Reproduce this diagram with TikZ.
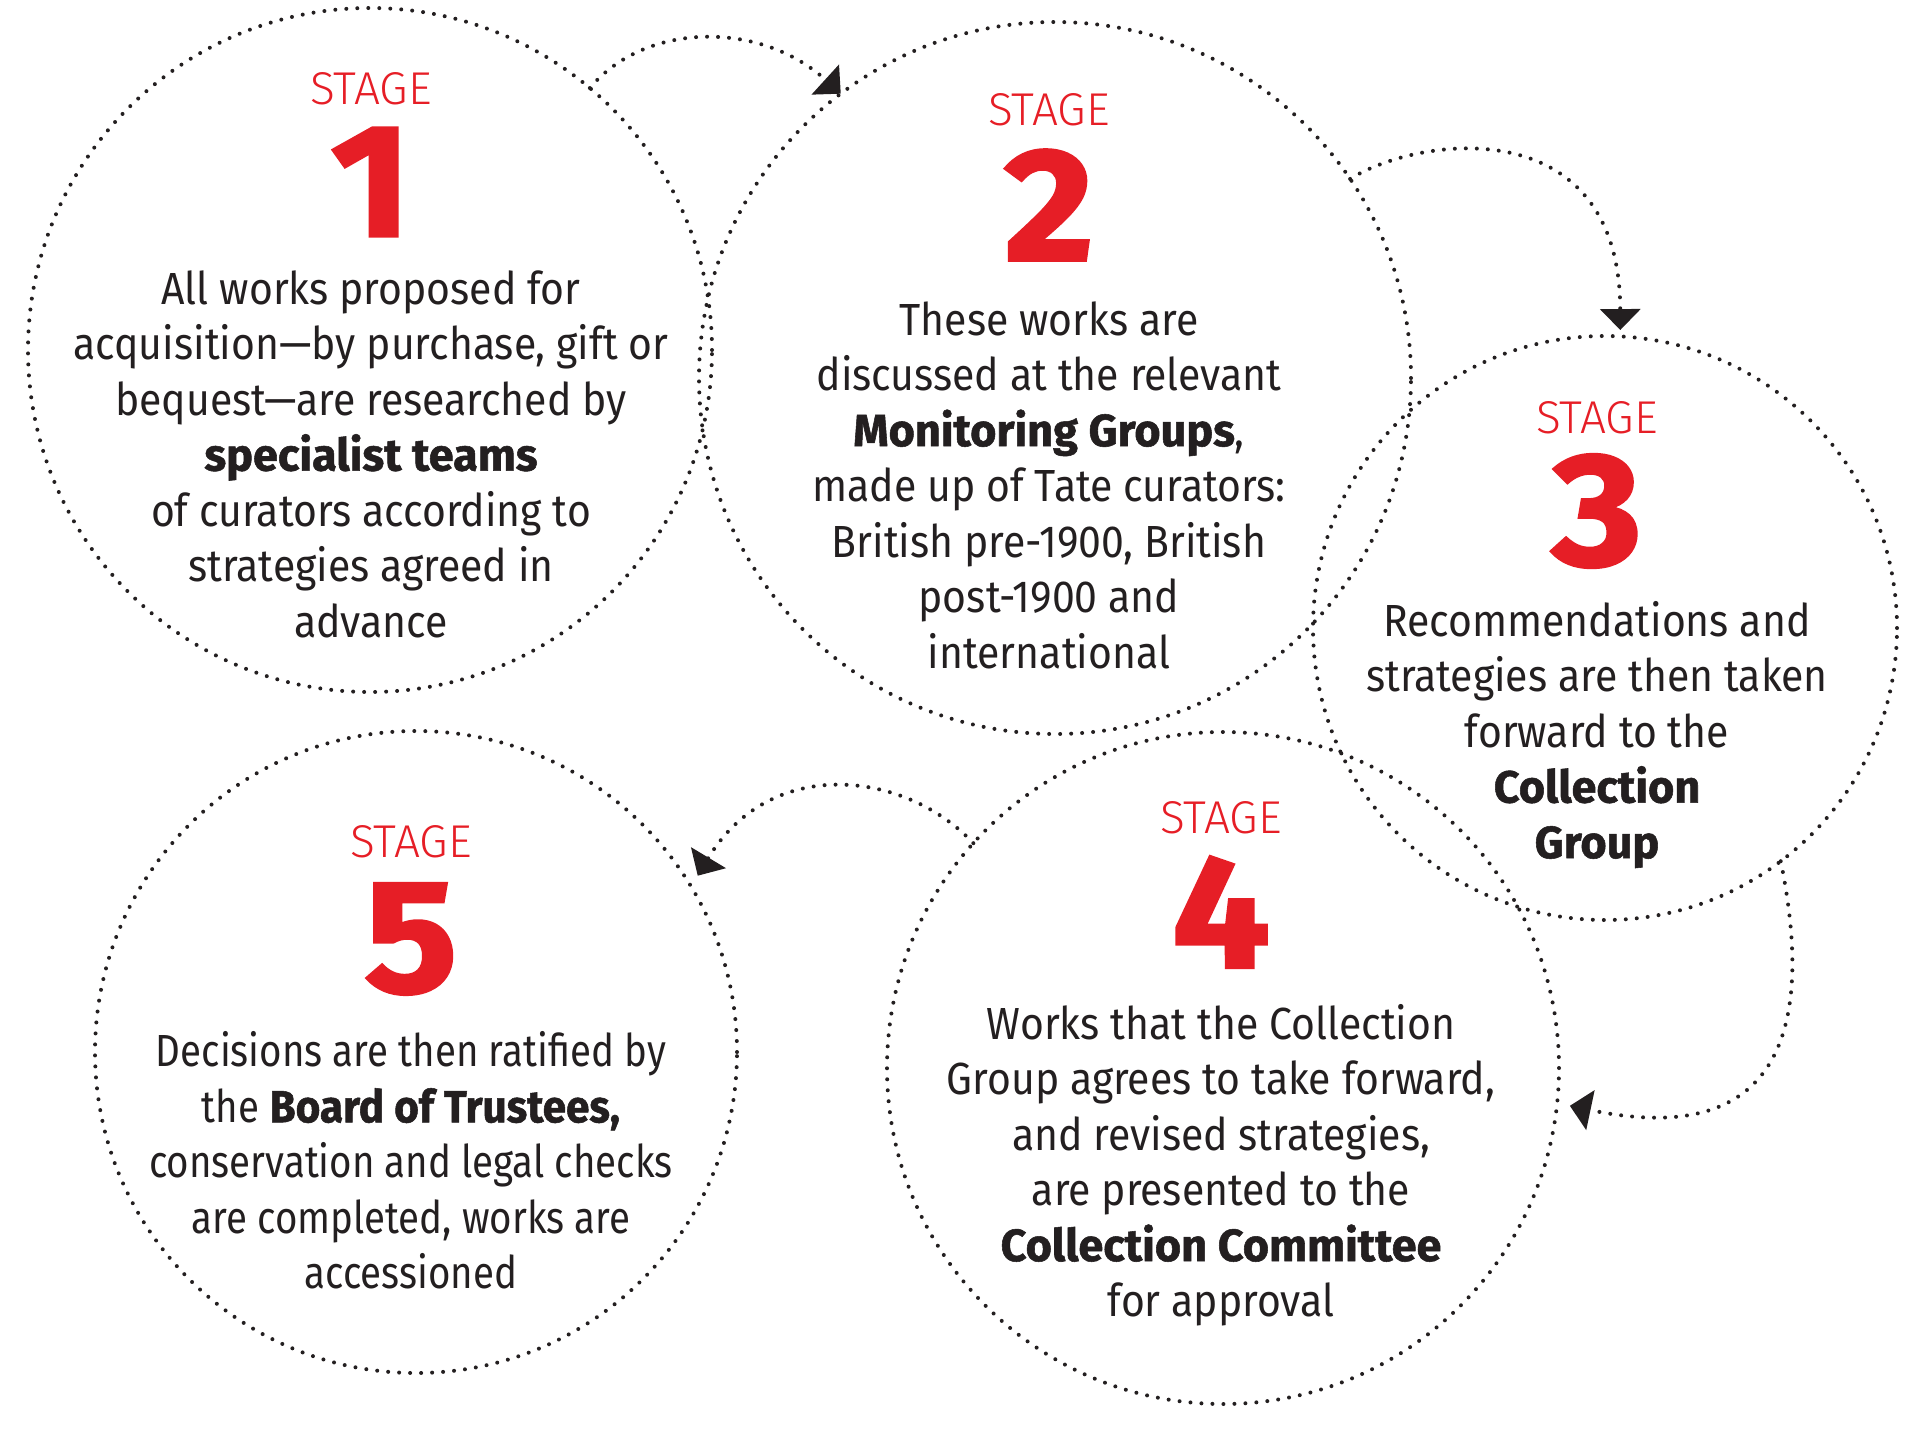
\documentclass[tikz,border=0pt]{standalone}
\usepackage{fontspec}
\setmainfont{Fira Sans}[FakeStretch=0.91, BoldFeatures={FakeStretch=1.0, FakeBold=1.2}]
\newfontfamily\tightfont{Fira Sans}[FakeStretch=0.855, BoldFeatures={FakeStretch=0.94, FakeBold=1.2}]
\newfontfamily\numfont{Fira Sans}[FakeStretch=1.08, BoldFeatures={FakeStretch=1.08, FakeBold=2}]
\newfontfamily\stagefont{Fira Sans Light}[FakeStretch=1.0]
\usetikzlibrary{arrows.meta}
\definecolor{tred}{RGB}{230,30,38}
\definecolor{tink}{RGB}{35,31,32}
\tikzset{
  dotline/.style={draw=tink, line width=4pt, line cap=round, dash pattern=on 0pt off 11pt},
  stagecirc/.style={circle, dotline, inner sep=0pt, outer sep=0pt},
  flowarrow/.style={dotline, -{Triangle[width=40pt,length=21pt]}},
  stagelbl/.style={text=tred, font=\stagefont\fontsize{46}{46}\selectfont, inner sep=0pt},
  stagenum/.style={text=tred, font=\numfont\bfseries\fontsize{160}{160}\selectfont, inner sep=0pt},
  body/.style={text=tink, align=center, font=\fontsize{45}{55.5}\selectfont, inner sep=0pt},
  tightbody/.style={body, font=\tightfont\fontsize{45}{55.5}\selectfont},
}
\begin{document}
\begin{tikzpicture}[x=1pt,y=-1pt]
\useasboundingbox (0,0) rectangle (1920,1441);
% circles
\node[stagecirc, minimum size=684pt] (c1) at (370,350) {};
\node[stagecirc, minimum size=712pt] (c2) at (1055,378) {};
\node[stagecirc, minimum size=584pt] (c3) at (1605,628) {};
\node[stagecirc, minimum size=672pt] (c4) at (1223,1068) {};
\node[stagecirc, minimum size=642pt] (c5) at (416,1052) {};
% stage 1
\node[stagelbl] (s1) at (371,89) {STAGE};
\node[stagenum] (n1) at (371,182) {1};
\node[body] (t1) at (371,454) {All works proposed for\\acquisition—by purchase, gift or\\bequest—are researched by\\\textbf{specialist teams}\\of curators according to\\strategies agreed in\\advance};
% stage 2
\node[stagelbl] (s2) at (1049,110) {STAGE};
\node[stagenum] (n2) at (1049,205) {2};
\node[body] (t2) at (1049,485) {These works are\\discussed at the relevant\\\textbf{Monitoring Groups},\\made up of Tate curators:\\British pre-1900, British\\post-1900 and\\international};
% stage 3
\node[stagelbl] (s3) at (1597,418) {STAGE};
\node[stagenum] (n3) at (1597,511) {3};
\node[body] (t3) at (1597,734.5) {Recommendations and\\strategies are then taken\\forward to the\\\textbf{Collection}\\\textbf{Group}};
% stage 4
\node[stagelbl] (s4) at (1221,818) {STAGE};
\node[stagenum] (n4) at (1221,912) {4};
\node[body] (t4) at (1221,1165) {Works that the Collection\\Group agrees to take forward,\\and revised strategies,\\are presented to the\\\textbf{Collection Committee}\\for approval};
% stage 5
\node[stagelbl] (s5) at (411,842) {STAGE};
\node[stagenum] (n5) at (411,939) {5};
\node[tightbody] (t5) at (411,1160.5) {Decisions are then ratified by\\the \textbf{Board of Trustees,}\\conservation and legal checks\\are completed, works are\\accessioned};
% arrows
\draw[flowarrow] (c1.50.5) .. controls (645,22) and (760,20) .. (c2.127.9);
\draw[flowarrow, shorten >=6.4pt] (c2.34.5) .. controls (1420,135) and (1620,110) .. (c3.87.06);
\draw[flowarrow, shorten >=13pt] (c3.-53.35) .. controls (1815,1030) and (1780,1150) .. (c4.-6);
\draw[flowarrow, shorten >=12.8pt] (c4.138.9) .. controls (905,770) and (770,755) .. (c5.31.7);
\end{tikzpicture}
\end{document}
